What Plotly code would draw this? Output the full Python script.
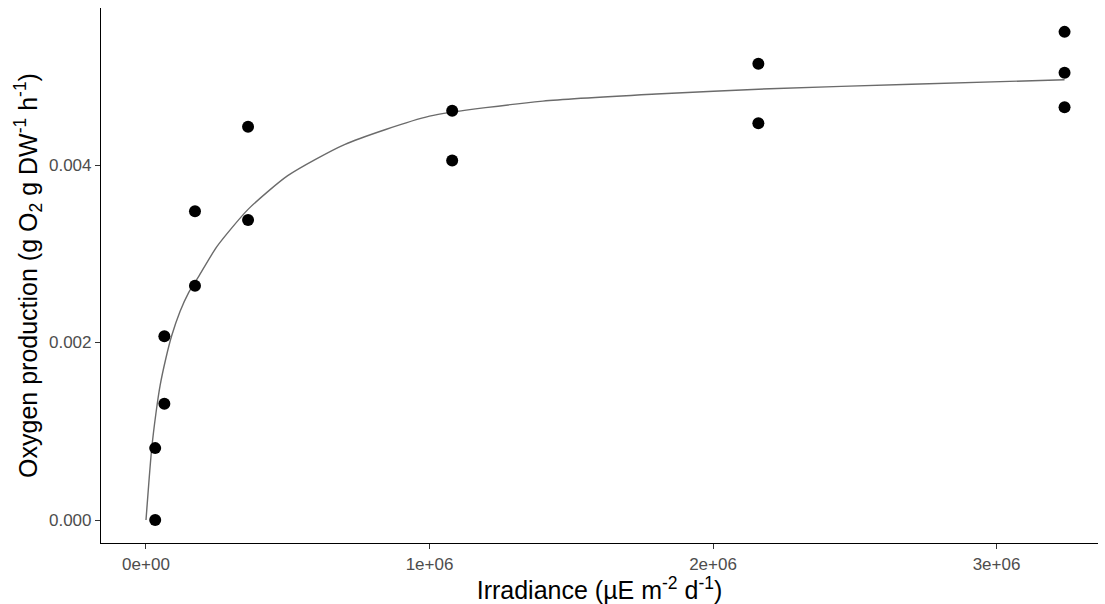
import plotly.graph_objects as go

irradiance = [32400, 32400, 64800, 64800, 172800, 172800, 360000, 360000,
              1080000, 1080000, 2160000, 2160000, 3240000, 3240000, 3240000]
oxygen = [0.0000, 0.00081, 0.00131, 0.00207, 0.00264, 0.00348, 0.00338, 0.00443,
          0.00461, 0.00405, 0.00514, 0.00447, 0.00550, 0.00504, 0.00465]

# Fitted curve
fit_x = [0, 10000, 20000, 35000, 50000, 70000, 90000, 120000, 150000, 185000, 250000,
         360000, 500000, 700000, 1000000, 1400000, 1800000, 2200000, 2700000, 3240000]
fit_y = [0.0, 0.00042, 0.00080, 0.00120, 0.00152, 0.00182, 0.00207, 0.00235, 0.00256,
         0.00274, 0.00308, 0.00350, 0.00388, 0.00423, 0.00455, 0.00472, 0.00480,
         0.00486, 0.00491, 0.00496]

x_tickvals = [0, 1000000, 2000000, 3000000]
x_ticktext = ["0e+00", "1e+06", "2e+06", "3e+06"]
y_tickvals = [0.0, 0.002, 0.004]
y_ticktext = ["0.000", "0.002", "0.004"]

fig = go.Figure()
fig.add_trace(go.Scatter(x=fit_x, y=fit_y, mode="lines",
                         line=dict(color="#6b6b6b", width=1.4, shape="spline", smoothing=0.6),
                         hoverinfo="skip", showlegend=False))
fig.add_trace(go.Scatter(x=irradiance, y=oxygen, mode="markers",
                         marker=dict(color="black", size=12),
                         showlegend=False))

font_family = "Liberation Sans, Arial, sans-serif"
fig.update_layout(
    width=1105, height=604,
    margin=dict(l=101, r=7, t=8, b=61),
    plot_bgcolor="white", paper_bgcolor="white",
    font=dict(family=font_family, color="black"),
    xaxis=dict(
        range=[-158700, 3358000],
        tickvals=x_tickvals, ticktext=x_ticktext,
        showgrid=False, zeroline=False,
        showline=True, linecolor="black", linewidth=1.2,
        ticks="outside", ticklen=5, tickcolor="#333333", tickwidth=1.1,
        tickfont=dict(size=17, color="#4d4d4d", family=font_family),
        title=dict(text="Irradiance (µE m<sup>-2</sup> d<sup>-1</sup>)",
                   font=dict(size=25, color="black", family=font_family), standoff=4),
    ),
    yaxis=dict(
        range=[-0.000259, 0.005769],
        tickvals=y_tickvals, ticktext=y_ticktext,
        showgrid=False, zeroline=False,
        showline=True, linecolor="black", linewidth=1.2,
        ticks="outside", ticklen=5, tickcolor="#333333", tickwidth=1.1,
        tickfont=dict(size=17, color="#4d4d4d", family=font_family),
        title=dict(text="Oxygen production (g O<sub>2</sub> g DW<sup>-1</sup> h<sup>-1</sup>)",
                   font=dict(size=25, color="black", family=font_family), standoff=4),
    ),
)

fig.write_html("out.html")
